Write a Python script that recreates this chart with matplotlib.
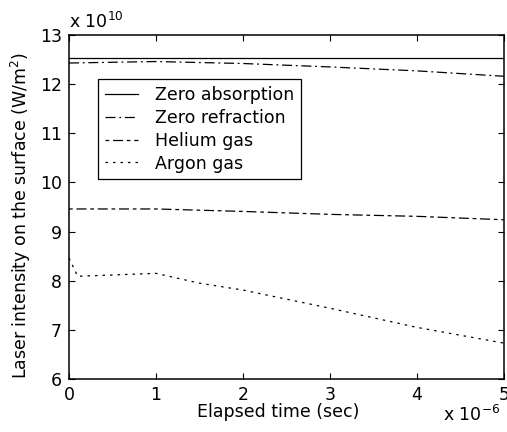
import matplotlib.pyplot as plt
import numpy as np

plt.rcParams['font.family'] = ['DejaVu Sans']
FS = 12.5

# time in units of 1e-6 s, intensity in units of 1e10 W/m^2
t_abs = [0, 5]
zero_absorption = [12.53, 12.53]

t_refr = [0, 1, 2, 3, 4, 5]
zero_refraction = [12.43, 12.46, 12.42, 12.35, 12.27, 12.16]

t_he = [0, 1, 2, 3, 4, 5]
helium = [9.46, 9.46, 9.41, 9.35, 9.31, 9.24]

t_ar = [0, 0.1, 1, 1.5, 2, 3, 4, 5]
argon = [8.46, 8.09, 8.15, 7.95, 7.81, 7.44, 7.05, 6.73]

W, H = 507, 432
fig = plt.figure(figsize=(W / 100, H / 100), dpi=100)
# axes box: x 69..504 px, y 35..379 px
ax = fig.add_axes([69 / W, 1 - 379 / H, (504 - 69) / W, (379 - 35) / H])

ax.plot(t_abs, zero_absorption, color='black', lw=0.9, ls='-', label='Zero absorption')
ax.plot(t_refr, zero_refraction, color='black', lw=0.9, ls=(0, (8, 3, 1.5, 3)), label='Zero refraction')
ax.plot(t_he, helium, color='black', lw=0.9, ls=(0, (3, 3, 8, 3)), label='Helium gas')
ax.plot(t_ar, argon, color='black', lw=0.9, ls=(0, (2, 4)), label='Argon gas')

ax.set_xlim(0, 5)
ax.set_ylim(6, 13)
ax.set_xticks(np.arange(0, 6, 1))
ax.set_yticks(np.arange(6, 14, 1))
ax.tick_params(direction='in', top=True, right=True, labelsize=FS, length=4, pad=5)
for s in ax.spines.values():
    s.set_linewidth(1.1)

fig.text(278 / W, 1 - 412 / H, 'Elapsed time (sec)', fontsize=FS, ha='center', va='center')
fig.text(21 / W, 1 - 216 / H, 'Laser intensity on the surface (W/m$^2$)', fontsize=FS,
         ha='center', va='center', rotation=90)

# manual scale factors in the MATLAB style
fig.text(69 / W, 1 - 28 / H, r'x 10$^{10}$', fontsize=FS, ha='left', va='baseline')
fig.text(500 / W, 1 - 421 / H, r'x 10$^{\mathregular{-6}}$', fontsize=FS, ha='right', va='baseline')

leg = ax.legend(loc='upper left', bbox_to_anchor=((98 - 69) / 435, (379 - 79) / 344), fontsize=FS,
                frameon=True, fancybox=False, edgecolor='black', framealpha=1,
                handlelength=1.9, handletextpad=1.0, borderpad=0.4, labelspacing=0.28,
                borderaxespad=0)
leg.get_frame().set_linewidth(0.9)

fig.savefig('out.png', dpi=100)
